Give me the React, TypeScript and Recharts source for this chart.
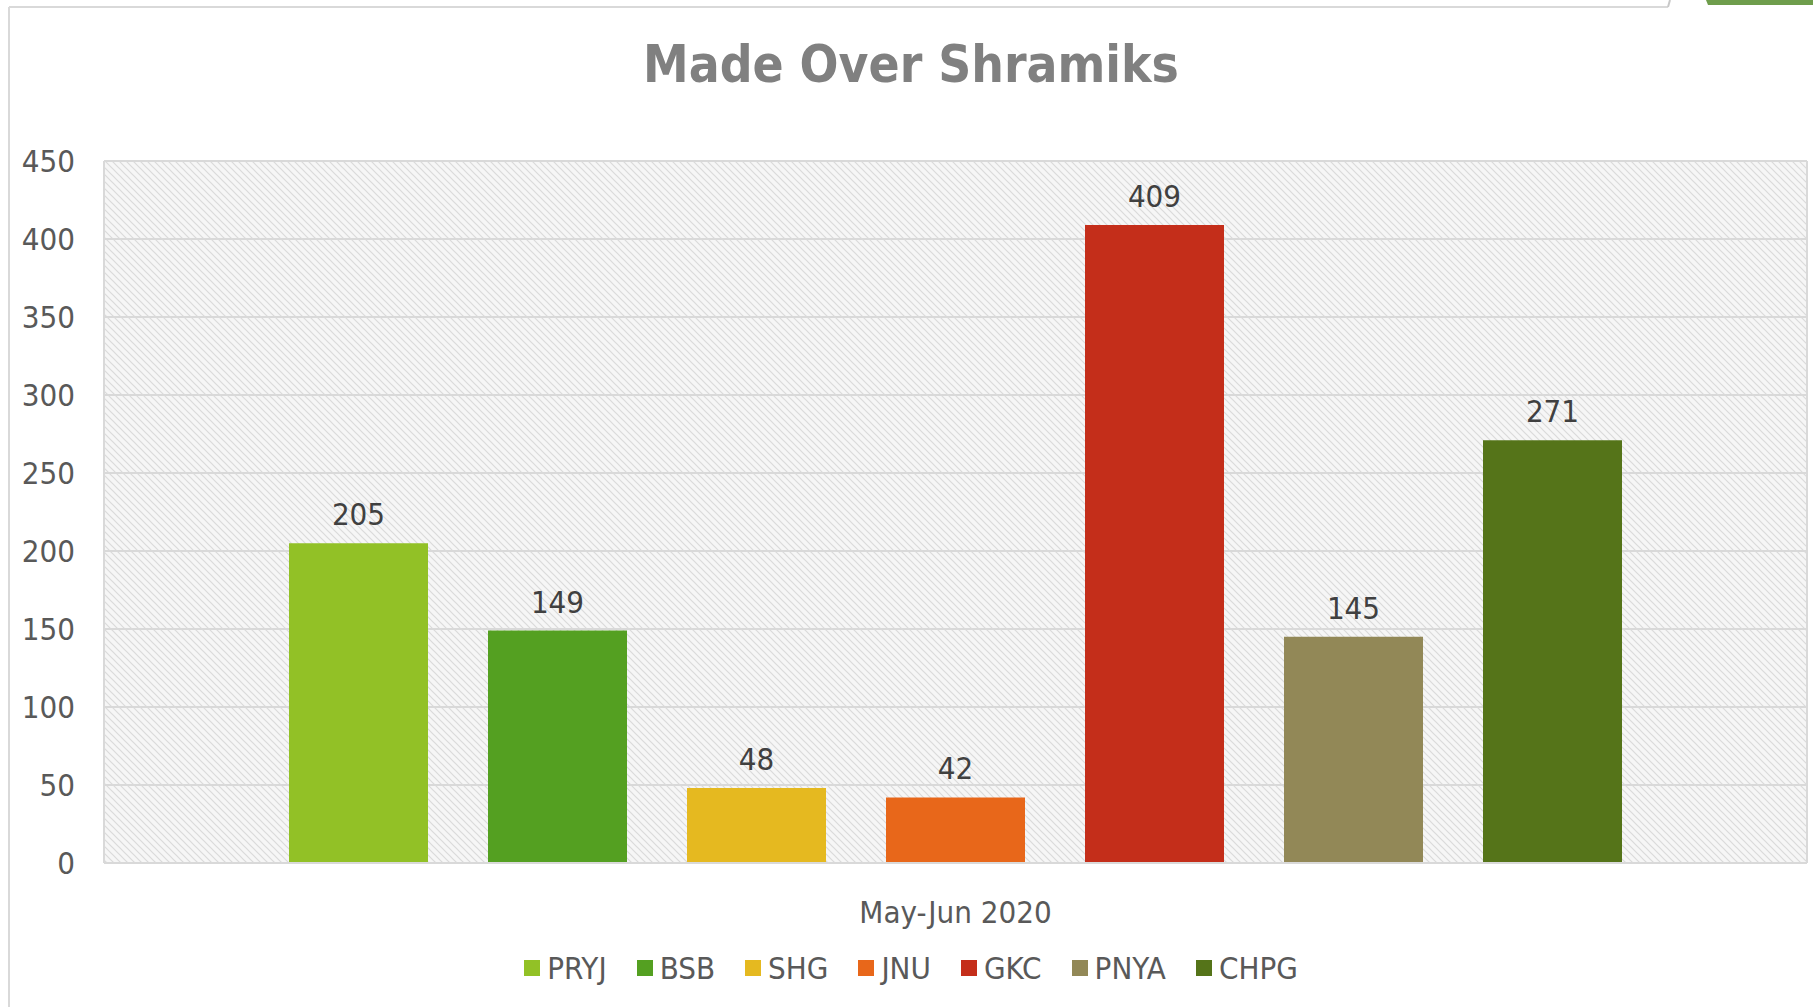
import { Bar, BarChart, CartesianGrid, LabelList, XAxis, YAxis } from "recharts";

const stations = ["PRYJ", "BSB", "SHG", "JNU", "GKC", "PNYA", "CHPG"];
const shramiks = [205, 149, 48, 42, 409, 145, 271];
const barColors = ["#92c126", "#54a021", "#e5b920", "#e8671a", "#c42e1a", "#928857", "#557419"];
const period = "May-Jun 2020";
const yTicks = [0, 50, 100, 150, 200, 250, 300, 350, 400, 450];

const font = "'DejaVu Sans Condensed', 'DejaVu Sans', sans-serif";

// one category, one bar per station
const row: Record<string, string | number> = { period };
stations.forEach((s, i) => {
  row[s] = shramiks[i];
});
const data = [row];

export default function App() {
  return (
    <div style={{ position: "relative", width: 1813, height: 1007, background: "#fff", fontFamily: font }}>
      <style>{`body{margin:0}`}</style>
      <svg width={0} height={0} style={{ position: "absolute" }}>
        <defs>
          <pattern id="hatch" width={7} height={7} patternUnits="userSpaceOnUse">
            <rect width={7} height={7} fill="#f6f6f6" />
            <path d="M0,0 L7,7 M-1,6 L1,8 M6,-1 L8,1" stroke="#dadada" strokeWidth={1.2} />
          </pattern>
        </defs>
      </svg>

      <BarChart
        width={1813}
        height={1007}
        data={data}
        margin={{ top: 161, right: 0, bottom: 0, left: 0 }}
        barGap={60}
        style={{ fontFamily: font }}
      >
        <CartesianGrid
          yAxisId="left"
          vertical={false}
          stroke="#d9d9d9"
          strokeWidth={2}
          fill="url(#hatch)"
          fillOpacity={1}
        />
        <XAxis
          dataKey="period"
          height={144}
          axisLine={{ stroke: "#d9d9d9", strokeWidth: 2 }}
          tickLine={false}
          tickSize={0}
          tickMargin={38}
          tick={{ fill: "#595959", fontSize: 31, fontFamily: font }}
        />
        <YAxis
          yAxisId="left"
          width={104}
          domain={[0, 450]}
          ticks={yTicks}
          axisLine={{ stroke: "#d9d9d9", strokeWidth: 2 }}
          tickLine={false}
          tickSize={0}
          tickMargin={29}
          tick={{ fill: "#595959", fontSize: 31, fontFamily: font }}
        />
        <YAxis
          yAxisId="right"
          orientation="right"
          width={6}
          domain={[0, 450]}
          ticks={yTicks}
          axisLine={{ stroke: "#d9d9d9", strokeWidth: 2 }}
          tickLine={false}
          tick={false}
        />
        {stations.map((s, i) => (
          <Bar key={s} yAxisId="left" dataKey={s} fill={barColors[i]} barSize={139} isAnimationActive={false}>
            <LabelList dataKey={s} position="top" offset={18} fill="#404040" fontSize={31} fontFamily={font} />
          </Bar>
        ))}
      </BarChart>

      <svg width={1813} height={1007} style={{ position: "absolute", left: 0, top: 0, pointerEvents: "none" }}>
        <line x1={9} y1={7} x2={9} y2={1007} stroke="#d9d9d9" strokeWidth={2} />
        <line x1={9} y1={7} x2={1668} y2={7} stroke="#d9d9d9" strokeWidth={2} />
        <path d="M1668,7 L1670,0" stroke="#c8c8c8" strokeWidth={2} />
        <path d="M1706,0 L1813,0 L1813,5 L1708,5 Z" fill="#6f9d4c" />
        <text x={911} y={82} textAnchor="middle" fill="#808080" fontSize={51} fontWeight="bold" fontFamily={font}>
          Made Over Shramiks
        </text>
      </svg>

      <div
        style={{
          position: "absolute",
          left: 9,
          width: 1804,
          top: 948,
          height: 40,
          display: "flex",
          justifyContent: "center",
          alignItems: "center",
        }}
      >
        {stations.map((s, i) => (
          <div key={s} style={{ display: "flex", alignItems: "center", marginRight: i < stations.length - 1 ? 30 : 0 }}>
            <div style={{ width: 16, height: 16, background: barColors[i], marginRight: 7 }} />
            <span style={{ fontSize: 31, color: "#595959", lineHeight: "40px" }}>{s}</span>
          </div>
        ))}
      </div>
    </div>
  );
}
